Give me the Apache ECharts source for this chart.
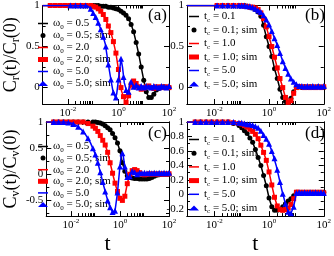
<!DOCTYPE html>
<html><head><meta charset="utf-8">
<script src="https://cdn.jsdelivr.net/npm/echarts@6/dist/echarts.min.js"></script>
<style>html,body{margin:0;padding:0;background:#fff}#c{width:334px;height:256px}</style>
</head><body><div id="c"></div><script>
const FONT = 'Liberation Serif';
// log10(t) of simulation samples
const simLogT = [-2.7,-2.5,-2.3,-2.1,-1.9,-1.7,-1.5,-1.3,-1.1,-1.0,-0.9,-0.8,-0.7,-0.6,-0.5,-0.4,-0.3,-0.2,-0.1,0.0,0.1,0.2,0.3,0.4,0.5,0.6,0.7,0.8,0.9,1.0,1.1,1.2,1.3,1.4,1.5,1.6,1.7,1.8,1.9,2.0];

// ---- panel (a): C_r, omega0 ----
const a1LogT = [-3,-1,-0.6,-0.3,0,0.2,0.4,0.5,0.6,0.7,0.8,0.9,1.0,1.1,1.2,1.3,1.4,1.5,1.6,1.8,2];
const a1Val  = [1,1,0.99,0.98,0.95,0.91,0.84,0.77,0.68,0.55,0.41,0.25,0.09,-0.05,-0.12,-0.12,-0.08,-0.03,-0.01,0,0];
const a1Sim  = [1,1,1,1,1,1,1,1,1,1,1,1,0.99,0.99,0.99,0.98,0.98,0.97,0.96,0.95,0.93,0.91,0.88,0.84,0.77,0.68,0.55,0.41,0.25,0.09,-0.05,-0.12,-0.12,-0.08,-0.03,-0.01,0,0.01,0,0];
const a2LogT = [-3,-1.2,-1.0,-0.8,-0.6,-0.45,-0.3,-0.2,-0.1,0,0.05,0.12,0.23,0.31,0.38,0.46,0.57,0.68,0.8,0.95,1.1,1.3,1.5,2];
const a2Val  = [1,1,0.99,0.96,0.89,0.79,0.67,0.56,0.42,0.22,0.1,-0.04,-0.14,-0.18,-0.12,0,0.07,0.06,0.01,-0.02,0,0.01,0,0];
const a2Sim  = [1,1,1,1,1,1,1,1,1,0.99,0.98,0.96,0.93,0.89,0.83,0.75,0.67,0.56,0.42,0.22,0,-0.11,-0.18,-0.1,0.03,0.08,0.05,0.01,-0.02,-0.01,0.01,0.02,0,-0.01,0.01,0,0.01,0,0.01,0];
const a3LogT = [-3,-1.27,-1.16,-1.05,-0.86,-0.67,-0.52,-0.41,-0.29,-0.22,-0.12,-0.07,0,0.1,0.16,0.23,0.31,0.38,0.48,0.57,0.65,0.72,0.83,0.95,1.1,1.3,1.5,1.7,2];
const a3Val  = [1,1,0.98,0.93,0.83,0.69,0.53,0.30,0.08,-0.04,-0.12,-0.08,0.1,0.35,0.25,0.06,-0.03,-0.06,0.08,0.03,-0.02,0.03,0,0.02,0.01,0.02,0.01,0.02,0.01];
const a3Sim  = [null,null,null,null,1,1,1,1,0.96,0.91,0.86,0.79,0.71,0.62,0.5,0.28,0.1,-0.06,-0.12,0.1,0.35,0.13,-0.03,-0.05,0.07,0.01,0.03,0,0.02,0,0.02,0.01,0,0.02,0.01,0,0.02,0.01,0,0.02];

// ---- panel (b): C_r, t_c ----
const b1LogT = [-3,-1,-0.8,-0.6,-0.4,-0.3,-0.2,-0.1,0,0.1,0.2,0.3,0.4,0.5,0.6,0.7,0.8,0.9,1.0,1.2,1.5,2];
const b1Val  = [1,1,0.99,0.97,0.92,0.87,0.75,0.62,0.5,0.38,0.23,0.11,-0.02,-0.12,-0.17,-0.18,-0.13,-0.06,0,0.01,0,0];
const b1Sim  = [null,null,null,null,1,1,1,1,1,1,1,0.99,0.98,0.97,0.95,0.92,0.87,0.76,0.62,0.5,0.38,0.23,0.11,-0.02,-0.12,-0.17,-0.18,-0.13,-0.05,0,0.01,0,0.01,0,0.01,0,0,0.01,0,0];
const b2LogT = [-3,-1,-0.6,-0.4,-0.3,-0.2,-0.1,0,0.1,0.2,0.3,0.4,0.5,0.6,0.7,0.8,0.9,1.0,1.2,1.5,2];
const b2Val  = [1,1,0.98,0.95,0.91,0.84,0.74,0.62,0.5,0.37,0.24,0.11,0,-0.12,-0.18,-0.16,-0.07,0,0.01,0,0];
const b2Sim  = [null,null,null,null,1,1,1,1,1,1,0.99,0.99,0.98,0.98,0.97,0.95,0.91,0.84,0.74,0.62,0.5,0.37,0.24,0.11,0,-0.12,-0.18,-0.16,-0.07,0,0.01,0.01,0,0.01,0,0.01,0,0.01,0,0.01];
const b3LogT = [-3,-1,-0.6,-0.3,-0.1,0.1,0.2,0.3,0.4,0.5,0.6,0.7,0.8,0.9,1.0,1.1,1.2,1.3,1.6,2];
const b3Val  = [1,1,0.98,0.92,0.83,0.69,0.6,0.52,0.42,0.32,0.24,0.17,0.11,0.07,0.04,0.02,0.01,0,0.01,0.01];
const b3Sim  = [null,null,null,null,1,1,1,1,1,1,1,0.99,0.99,0.98,0.96,0.94,0.92,0.88,0.83,0.77,0.69,0.6,0.52,0.42,0.32,0.24,0.17,0.11,0.07,0.04,0.02,0.02,0.01,0.02,0.01,0.02,0.01,0.02,0.01,0.02];

// ---- panel (c): C_v, omega0 ----
const c1LogT = [-3,-1.0,-0.8,-0.6,-0.4,-0.3,-0.2,-0.1,0,0.1,0.2,0.3,0.4,0.6,0.8,1.0,1.2,1.4,1.6,1.8,2];
const c1Val  = [1,1,0.98,0.93,0.85,0.78,0.7,0.6,0.45,0.22,0.06,-0.03,-0.06,-0.08,-0.09,-0.09,-0.08,-0.04,-0.01,0,0];
const c1Sim  = [1,1,1,1,1,1,1,1,1,1,0.99,0.98,0.96,0.93,0.89,0.85,0.78,0.7,0.6,0.45,0.22,0.06,-0.03,-0.06,-0.07,-0.08,-0.08,-0.09,-0.09,-0.09,-0.09,-0.08,-0.06,-0.04,-0.02,-0.01,0,0,0,0];
const c2LogT = [-3,-1.5,-1.3,-1.1,-0.9,-0.7,-0.6,-0.5,-0.4,-0.3,-0.2,-0.1,0,0.1,0.2,0.3,0.4,0.5,0.6,0.7,0.8,0.9,1.0,1.2,2];
const c2Val  = [1,1,0.97,0.92,0.82,0.65,0.56,0.42,0.22,0.02,-0.17,-0.33,-0.46,-0.5,-0.42,-0.18,0,0.07,0.09,0.07,0.03,0,-0.01,0,0];
const c2Sim  = [1,1,1,1,1,1,1,0.97,0.92,0.88,0.82,0.74,0.65,0.56,0.42,0.22,0.02,-0.17,-0.33,-0.46,-0.5,-0.42,-0.18,0,0.07,0.09,0.07,0.03,0,-0.01,0,0.01,0,0.01,0,0.01,0,0.01,0,0.01];
const c3LogT = [-3,-2.2,-2.0,-1.8,-1.6,-1.4,-1.2,-1.0,-0.9,-0.8,-0.7,-0.6,-0.5,-0.4,-0.3,-0.2,-0.1,0,0.05,0.12,0.2,0.3,0.4,0.5,0.6,0.7,0.8,1.0,1.5,2];
const c3Val  = [1,1,0.98,0.94,0.87,0.76,0.6,0.38,0.22,0.04,-0.15,-0.33,-0.5,-0.63,-0.72,-0.7,-0.35,0.15,0.35,0.4,0.15,-0.05,-0.04,0.06,0.04,0,0.03,0.02,0.02,0.02];
const c3Sim  = [1,1,1,0.99,0.96,0.91,0.82,0.69,0.5,0.38,0.22,0.04,-0.15,-0.33,-0.5,-0.63,-0.72,-0.7,-0.35,0.15,0.4,0.15,-0.05,-0.04,0.06,0.04,0,0.03,0.02,0.03,0.02,0.03,0.02,0.03,0.02,0.03,0.02,0.03,0.02,0.03];

// ---- panel (d): C_v, t_c ----
const d1LogT = [-3,-1.5,-1.2,-1.0,-0.8,-0.6,-0.45,-0.3,-0.2,-0.1,0,0.1,0.2,0.35,0.5,0.65,0.8,0.9,1.0,1.2,2];
const d1Val  = [1,1,0.97,0.92,0.84,0.72,0.57,0.4,0.26,0.12,-0.05,-0.17,-0.22,-0.22,-0.17,-0.11,-0.06,-0.02,0.03,0.02,0.02];
const d1Sim  = [1,1,1,1,1,1,1,0.98,0.95,0.92,0.88,0.84,0.78,0.72,0.62,0.51,0.4,0.26,0.12,-0.05,-0.17,-0.22,-0.22,-0.21,-0.17,-0.13,-0.09,-0.06,-0.02,0.03,0.02,0.03,0.02,0.03,0.02,0.03,0.02,0.03,0.02,0.03];
const d2LogT = [-3,-1.5,-1.0,-0.8,-0.6,-0.45,-0.3,-0.2,-0.1,0,0.1,0.2,0.3,0.4,0.55,0.7,0.85,0.95,1.0,1.1,2];
const d2Val  = [1,1,0.97,0.93,0.87,0.8,0.68,0.58,0.47,0.31,0.13,-0.04,-0.16,-0.21,-0.22,-0.19,-0.1,-0.02,0.03,0.03,0.02];
const d2Sim  = [1,1,1,1,1,1,1,0.99,0.98,0.97,0.95,0.93,0.9,0.87,0.83,0.77,0.68,0.58,0.47,0.31,0.13,-0.04,-0.16,-0.21,-0.22,-0.21,-0.19,-0.14,-0.06,0.03,0.03,0.02,0.03,0.02,0.03,0.02,0.03,0.02,0.03,0.02];
const d3LogT = [-3,-1.5,-1.0,-0.6,-0.4,-0.2,0,0.12,0.26,0.37,0.48,0.6,0.7,0.8,0.9,1.0,1.1,2];
const d3Val  = [1,1,0.99,0.96,0.92,0.82,0.7,0.58,0.4,0.22,0.04,-0.13,-0.24,-0.26,-0.17,0.02,0.03,0.02];
const d3Sim  = [1,1,1,1,1,1,1,1,0.99,0.99,0.98,0.97,0.97,0.96,0.94,0.92,0.88,0.82,0.77,0.7,0.6,0.5,0.34,0.17,0.01,-0.13,-0.24,-0.26,-0.17,0.02,0.03,0.02,0.03,0.02,0.03,0.02,0.03,0.02,0.03,0.02];

// axis ticks / labels
const xLabelVals = [0.01, 1, 100];
const xMinorVals = [0.02,0.03,0.04,0.05,0.06,0.07,0.08,0.09,2,3,4,5,6,7,8,9];
const yA = {min:-0.2, max:1, major:[0,0.5,1], minor:[0.25,0.75], labels:[0,0.5,1]};
const yC = {min:-0.8, max:1, major:[-0.5,0,0.5,1], minor:[-0.75,-0.25,0.25,0.75], labels:[-0.5,0,0.5,1]};
const yD = {min:-0.3, max:1, major:[-0.2,0,0.2,0.4,0.6,0.8,1], minor:[-0.1,0.1,0.3,0.5,0.7,0.9], labels:[-0.2,0,0.2,0.4,0.6,0.8,1]};

const namesW = ['ω0 = 0.5','ω0 = 0.5; sim','ω0 = 2.0','ω0 = 2.0; sim','ω0 = 5.0','ω0 = 5.0; sim'];
const namesT = ['tc = 0.1','tc = 0.1; sim','tc = 1.0','tc = 1.0; sim','tc = 5.0','tc = 5.0; sim'];
const colors = ['#000000','#ff0000','#0000ff'];
const symbols = ['circle','rect','triangle'];
const symSizes = [5,5,6];
const LINE_ICON = 'path://M0,0 L20,0 L20,3 L0,3 Z';

const grids = [
  {left:36, top:4, width:133, height:100},
  {left:187, top:4, width:139, height:100},
  {left:36, top:122, width:133, height:102},
  {left:187, top:122, width:139, height:102}
];
const panels = [
  {y:yA, names:namesW, ytitle:'{n|C}{s|r}{n|(t)/C}{s|r}{n|(0)}', xtitle:'', tag:'(a)', curves:[[a1LogT,a1Val,a1Sim],[a2LogT,a2Val,a2Sim],[a3LogT,a3Val,a3Sim]], leg:{left:38, top:16.5, gap:-2}},
  {y:yA, names:namesT, ytitle:'', xtitle:'', tag:'(b)', curves:[[b1LogT,b1Val,b1Sim],[b2LogT,b2Val,b2Sim],[b3LogT,b3Val,b3Sim]], leg:{left:189, top:9.5, gap:-0.5}},
  {y:yC, names:namesW, ytitle:'{n|C}{s|v}{n|(t)/C}{s|v}{n|(0)}', xtitle:'t', tag:'(c)', curves:[[c1LogT,c1Val,c1Sim],[c2LogT,c2Val,c2Sim],[c3LogT,c3Val,c3Sim]], leg:{left:38, top:139.5, gap:-2.4}},
  {y:yD, names:namesT, ytitle:'', xtitle:'t', tag:'(d)', curves:[[d1LogT,d1Val,d1Sim],[d2LogT,d2Val,d2Sim],[d3LogT,d3Val,d3Sim]], leg:{left:189, top:132.5, gap:-0.3}}
];

const richLeg = {
  n:{fontFamily:FONT, fontSize:11, color:'#000', lineHeight:12},
  s:{fontFamily:FONT, fontSize:7, color:'#000', lineHeight:12, padding:[7,0,0,0]}
};
function legLabel(name){
  if (name.indexOf('ω0') === 0) return '{n|ω}{s|0}{n|' + name.slice(2) + '}';
  return '{n|t}{s|c}{n|' + name.slice(2) + '}';
}
const tickLine = {color:'#000', width:1};
const xAxes = [], yAxes = [], series = [], legends = [], graphics = [];
panels.forEach((p, g) => {
  const baseX = {type:'log', logBase:10, min:0.001, max:100, gridIndex:g,
    axisLine:{show:true, onZero:false, lineStyle:tickLine}, splitLine:{show:false}};
  xAxes.push(Object.assign({}, baseX, {position:'bottom',
    name:p.xtitle, nameLocation:'middle', nameGap:12,
    nameTextStyle:{fontFamily:FONT, fontSize:22, color:'#000'},
    axisTick:{show:true, inside:true, length:5, customValues:xLabelVals, lineStyle:tickLine},
    axisLabel:{show:true, customValues:xLabelVals, margin:3,
      formatter:v => '{b|10}{p|' + Math.round(Math.log10(v)) + '}',
      rich:{b:{fontFamily:FONT, fontSize:11, color:'#000', lineHeight:12},
            p:{fontFamily:FONT, fontSize:7, color:'#000', lineHeight:12, padding:[0,0,7,0]}}}}));
  xAxes.push(Object.assign({}, baseX, {position:'bottom',
    axisTick:{show:true, inside:true, length:3, customValues:xMinorVals, lineStyle:tickLine}, axisLabel:{show:false}}));
  xAxes.push(Object.assign({}, baseX, {position:'top',
    axisTick:{show:true, inside:true, length:5, customValues:xLabelVals, lineStyle:tickLine}, axisLabel:{show:false}}));
  xAxes.push(Object.assign({}, baseX, {position:'top',
    axisTick:{show:true, inside:true, length:3, customValues:xMinorVals, lineStyle:tickLine}, axisLabel:{show:false}}));

  const baseY = {type:'value', min:p.y.min, max:p.y.max, gridIndex:g,
    axisLine:{show:true, onZero:false, lineStyle:tickLine}, splitLine:{show:false}};
  yAxes.push(Object.assign({}, baseY, {position:'left',
    name:p.ytitle, nameLocation:'middle', nameGap:14, nameRotate:90,
    nameTextStyle:{fontFamily:FONT, fontSize:18, color:'#000',
      rich:{n:{fontFamily:FONT, fontSize:18, color:'#000', lineHeight:20},
            s:{fontFamily:FONT, fontSize:12, color:'#000', lineHeight:20, padding:[9,0,0,0]}}},
    axisTick:{show:true, inside:true, length:5, customValues:p.y.major, lineStyle:tickLine},
    axisLabel:{show:true, customValues:p.y.labels, margin:3, fontFamily:FONT, fontSize:11, color:'#000'}}));
  yAxes.push(Object.assign({}, baseY, {position:'left',
    axisTick:{show:true, inside:true, length:3, customValues:p.y.minor, lineStyle:tickLine}, axisLabel:{show:false}}));
  yAxes.push(Object.assign({}, baseY, {position:'right',
    axisTick:{show:true, inside:true, length:5, customValues:p.y.major, lineStyle:tickLine}, axisLabel:{show:false}}));
  yAxes.push(Object.assign({}, baseY, {position:'right',
    axisTick:{show:true, inside:true, length:3, customValues:p.y.minor, lineStyle:tickLine}, axisLabel:{show:false}}));

  p.curves.forEach((c, k) => {
    const [lt, vals, sim] = c;
    series.push({type:'line', name:p.names[2*k], xAxisIndex:4*g, yAxisIndex:4*g,
      data: lt.map((l,i) => [Math.pow(10,l), vals[i]]),
      symbol:'none', showSymbol:false, clip:true,
      lineStyle:{color:colors[k], width:1.5}, itemStyle:{color:colors[k]}, z:2+2*k});
    series.push({type:'scatter', name:p.names[2*k+1], xAxisIndex:4*g, yAxisIndex:4*g,
      data: simLogT.map((l,i) => sim[i] == null ? null : [Math.pow(10,l), sim[i]]).filter(d => d),
      symbol:symbols[k], symbolSize:symSizes[k], clip:true,
      itemStyle:{color:colors[k], opacity:1}, z:3+2*k});
  });

  legends.push({show:true, orient:'vertical', left:p.leg.left, top:p.leg.top, padding:0,
    itemGap:p.leg.gap, itemWidth:10, itemHeight:5, selectedMode:false,
    data:p.names.map((n, i) => i % 2 === 0 ? {name:n, icon:LINE_ICON} : {name:n}),
    formatter:legLabel,
    textStyle:{fontFamily:FONT, fontSize:11, color:'#000', rich:richLeg}});

  graphics.push({type:'text', left:grids[g].left + grids[g].width - 21, top:grids[g].top + 3,
    style:{text:p.tag, font:'17px "Liberation Serif"', fill:'#000'}});
});

const chart = echarts.init(document.getElementById('c'), null, {renderer:'canvas', width:334, height:256});
chart.setOption({
  animation:false,
  backgroundColor:'#fff',
  grid:grids,
  xAxis:xAxes,
  yAxis:yAxes,
  legend:legends,
  series:series,
  graphic:graphics
});
</script></body></html>
